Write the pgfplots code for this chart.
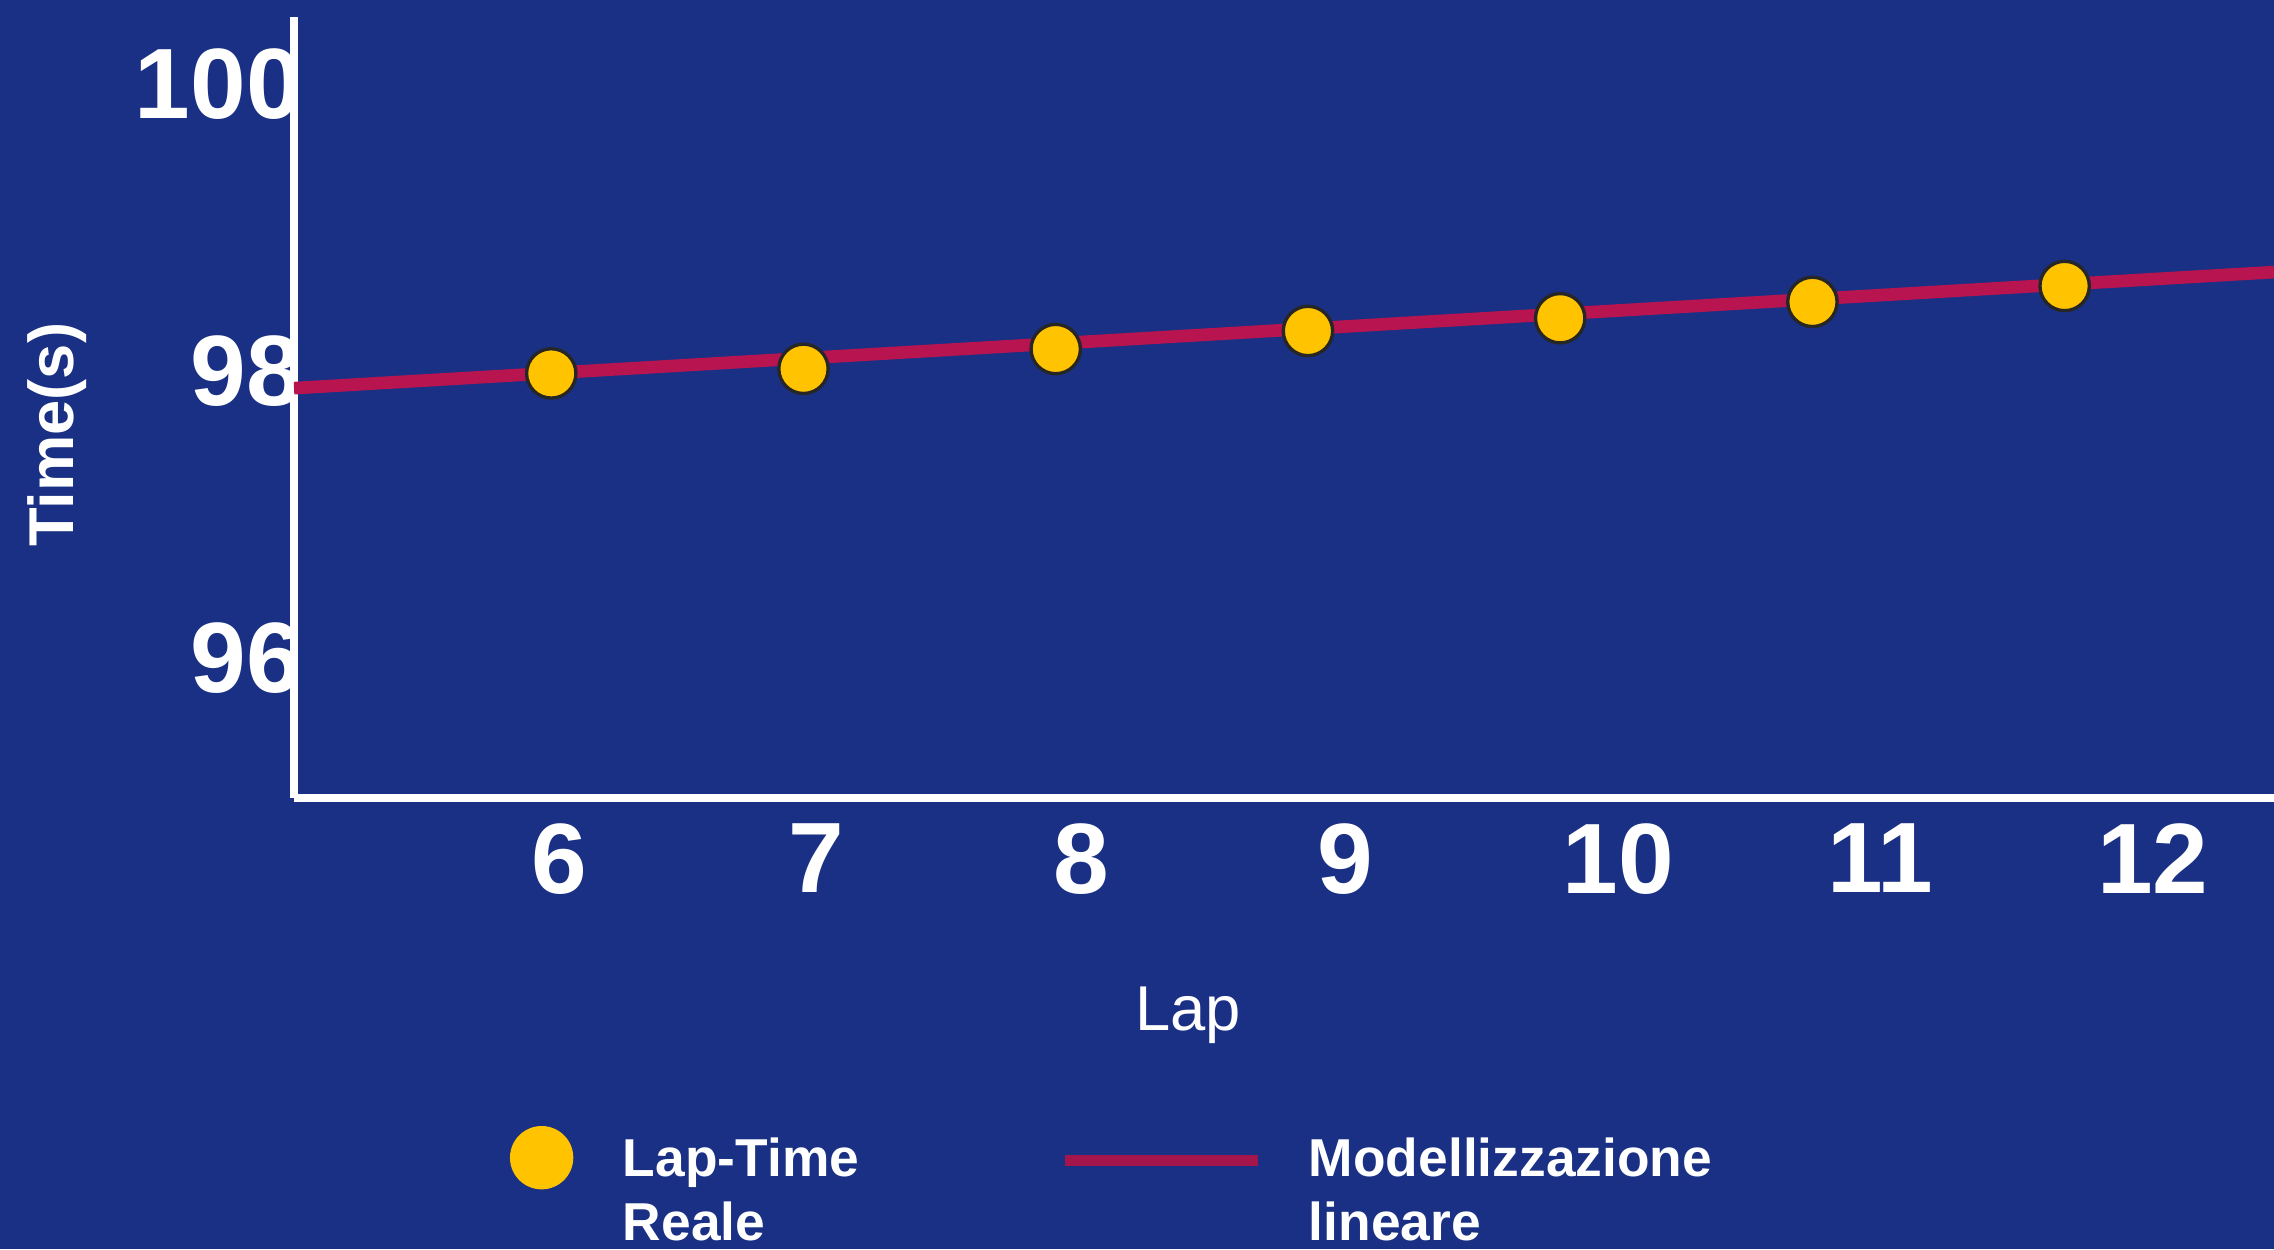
\documentclass[border=0pt]{standalone}
\usepackage{pgfplots}
\pgfplotsset{compat=1.18}
\usepackage{fontspec}
\setmainfont{Liberation Sans}
\definecolor{bgblue}{HTML}{1A3084}
\definecolor{fitred}{HTML}{B8144F}
\definecolor{legred}{HTML}{A3154B}
\definecolor{lapgold}{HTML}{FFC300}

\begin{document}
\begin{tikzpicture}
\fill[bgblue] (-88.2pt,-135.3pt) rectangle (594pt,239.4pt);
\begin{axis}[
  at={(0pt,0pt)}, anchor=south west,
  scale only axis, width=594pt, height=234.3pt,
  xmin=4.98, xmax=12.83, ymin=95, ymax=100.45,
  axis lines=left,
  axis line style={white, line width=2.3pt, -},
  major tick length=0pt,
  xtick={6.03,7.05,8.10,9.15,10.23,11.27,12.35},
  xticklabels={6,7,8,9,10,11,12},
  ytick={96,98,100},
  yticklabels={96,98,100},
  ticklabel style={font=\fontsize{30}{30}\selectfont\bfseries, text=white, inner sep=0pt},
  xticklabel style={anchor=north, yshift=-7.5pt},
  yticklabel style={anchor=east, xshift=2.5pt, yshift=-0.9pt},
  xlabel={Lap}, ylabel={Time(s)},
  xlabel style={font=\fontsize{19}{19}\selectfont, text=white,
    at={(axis description cs:0.4515,-0.278)}, anchor=center},
  ylabel style={font=\fontsize{19}{19}\selectfont\bfseries, text=white,
    at={(axis description cs:-0.1197,0.465)}, anchor=center},
  legend columns=2,
  reverse legend,
  legend style={at={(axis description cs:0.1079,-0.42)}, anchor=north west,
    draw=none, fill=none, inner sep=0pt, outer sep=0pt,
    row sep=0pt, column sep=0pt,
    font=\fontsize{16}{19.2}\selectfont\bfseries, text=white,
    cells={anchor=base west, text width=128.85pt, align=left, inner sep=0pt}},
]
% linear fit
\addplot[fitred, line width=3.8pt,
  legend image code/.code={
    \path (0pt,0pt) (69.15pt,0pt);
    \draw[legred, line width=3.3pt] (0pt,5pt) -- (57.9pt,5pt);}]
  coordinates {(4.98,97.86) (12.83,98.67)};
\addlegendentry{Modellizzazione\\lineare}
% measured lap times
\addplot[only marks, mark=*, mark size=7.4pt,
  mark options={fill=lapgold, draw=black!85, line width=1pt},
  legend image code/.code={
    \path (-10pt,0pt) (22.2pt,0pt);
    \fill[lapgold] (0pt,5.7pt) circle[radius=9.3pt];}]
  coordinates {
  (6,97.963) (7,97.995) (8,98.133) (9,98.259) (10,98.348) (11,98.462) (12,98.573)
  };
\addlegendentry{Lap-Time\\Reale}
\end{axis}
\pgfresetboundingbox
\useasboundingbox (-88.2pt,-135.3pt) rectangle (594pt,239.4pt);
\end{tikzpicture}
\end{document}
